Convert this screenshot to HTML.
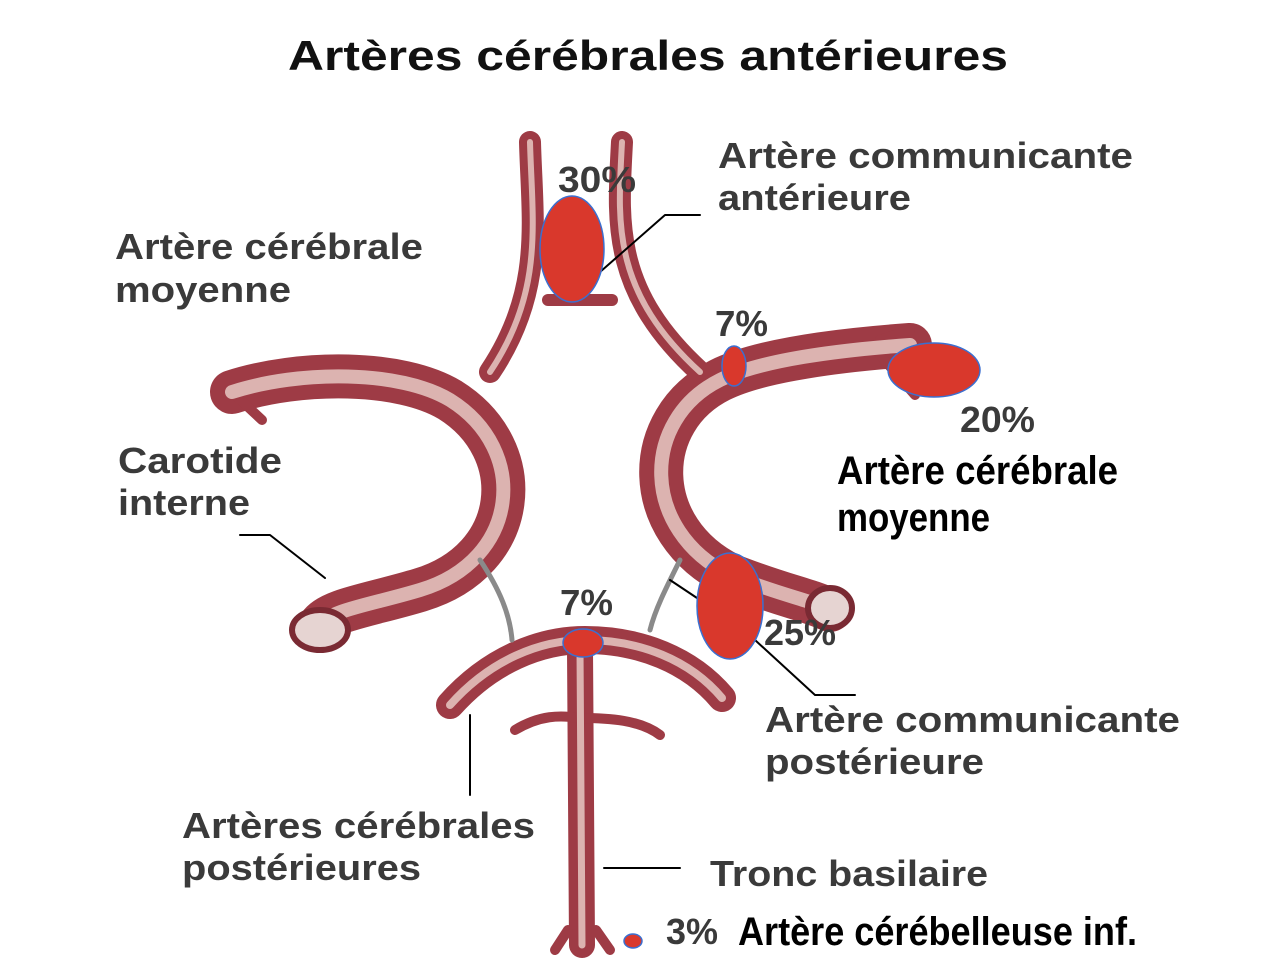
<!DOCTYPE html>
<html><head><meta charset="utf-8"><style>
html,body{margin:0;padding:0;background:#fff;}
svg{display:block;}
.t{font-family:"Liberation Sans",sans-serif;font-weight:bold;fill:#3a3a3a;font-size:36px;}
.n{font-family:"Liberation Sans Narrow","Liberation Sans",sans-serif;font-weight:bold;fill:#000;font-size:40px;}
</style></head><body>
<svg width="1280" height="964" viewBox="0 0 1280 964">
<text x="288" y="70" textLength="720" lengthAdjust="spacingAndGlyphs" font-family="Liberation Sans,sans-serif" font-weight="bold" font-size="42" fill="#111">Artères cérébrales antérieures</text>
<g fill="none" stroke-linecap="round" stroke-linejoin="round">
<g stroke="#9e3b45">
<path d="M530 142 C532 220 545 290 490 372" stroke-width="22"/>
<path d="M622 142 C618 220 610 290 700 372" stroke-width="22"/>
<path d="M548 300 L612 300" stroke-width="12"/>
<path d="M232 392 C300 370 400 370 450 400 C530 450 520 560 420 590 C370 605 330 610 320 625" stroke-width="44"/>
<path d="M232 392 L262 420" stroke-width="10"/>
<path d="M910 345 C840 350 760 360 720 380 C640 420 640 530 730 575 C780 595 810 600 830 610" stroke-width="44"/>
<path d="M880 340 L910 330 M880 355 L915 395" stroke-width="10"/>
<path d="M450 705 C490 660 540 640 585 640 C640 640 690 660 722 698" stroke-width="28"/>
<path d="M580 650 L582 945" stroke-width="26"/>
<path d="M515 730 C540 715 560 715 580 718 C610 718 640 720 660 735" stroke-width="10"/>
<path d="M568 930 L555 950 M596 930 L610 950" stroke-width="10"/>
</g>
<g stroke="#dcb3b0">
<path d="M530 142 C532 220 545 290 490 372" stroke-width="6"/>
<path d="M622 142 C618 220 610 290 700 372" stroke-width="6"/>
<path d="M232 392 C300 370 400 370 450 400 C530 450 520 560 420 590 C370 605 330 610 320 625" stroke-width="14"/>
<path d="M910 345 C840 350 760 360 720 380 C640 420 640 530 730 575 C780 595 810 600 830 610" stroke-width="14"/>
<path d="M450 705 C490 660 540 640 585 640 C640 640 690 660 722 698" stroke-width="8"/>
<path d="M580 650 L582 945" stroke-width="7"/>
</g>
<g stroke="#8a8a8a" stroke-width="5">
<path d="M480 560 C500 590 510 615 512 640"/>
<path d="M680 560 C665 590 655 610 650 630"/>
</g>
<g stroke="#000" stroke-width="2">
<path d="M600 272 L665 215 L700 215"/>
<path d="M240 535 L270 535 L325 578"/>
<path d="M670 580 L700 600"/>
<path d="M755 640 L815 695 L855 695"/>
<path d="M470 715 L470 795"/>
<path d="M604 868 L680 868"/>
</g>
</g>
<ellipse cx="320" cy="630" rx="28" ry="20" fill="#e6d4d2" stroke="#7a2a33" stroke-width="6"/>
<ellipse cx="830" cy="608" rx="22" ry="20" fill="#e6d4d2" stroke="#7a2a33" stroke-width="6"/>
<g fill="#d9382c" stroke="#3b6fd0" stroke-width="1.5">
<ellipse cx="572" cy="249" rx="32" ry="53"/>
<ellipse cx="734" cy="366" rx="12" ry="20"/>
<ellipse cx="934" cy="370" rx="46" ry="27"/>
<ellipse cx="730" cy="606" rx="33" ry="53"/>
<ellipse cx="583" cy="643" rx="20" ry="14"/>
<ellipse cx="633" cy="941" rx="9" ry="7"/>
</g>
<g lengthAdjust="spacingAndGlyphs">
<text class="t" x="558" y="192" textLength="78" lengthAdjust="spacingAndGlyphs">30%</text>
<text class="t" x="718" y="168" textLength="415" lengthAdjust="spacingAndGlyphs">Artère communicante</text>
<text class="t" x="718" y="210" textLength="193" lengthAdjust="spacingAndGlyphs">antérieure</text>
<text class="t" x="115" y="259" textLength="308" lengthAdjust="spacingAndGlyphs">Artère cérébrale</text>
<text class="t" x="115" y="302" textLength="176" lengthAdjust="spacingAndGlyphs">moyenne</text>
<text class="t" x="715" y="336" textLength="53" lengthAdjust="spacingAndGlyphs">7%</text>
<text class="t" x="960" y="432" textLength="75" lengthAdjust="spacingAndGlyphs">20%</text>
<text class="t" x="118" y="473" textLength="164" lengthAdjust="spacingAndGlyphs">Carotide</text>
<text class="t" x="118" y="515" textLength="132" lengthAdjust="spacingAndGlyphs">interne</text>
<text class="n" x="837" y="484" textLength="281" lengthAdjust="spacingAndGlyphs">Artère cérébrale</text>
<text class="n" x="837" y="531" textLength="153" lengthAdjust="spacingAndGlyphs">moyenne</text>
<text class="t" x="560" y="615" textLength="53" lengthAdjust="spacingAndGlyphs">7%</text>
<text class="t" x="764" y="645" textLength="72" lengthAdjust="spacingAndGlyphs">25%</text>
<text class="t" x="765" y="732" textLength="415" lengthAdjust="spacingAndGlyphs">Artère communicante</text>
<text class="t" x="765" y="774" textLength="219" lengthAdjust="spacingAndGlyphs">postérieure</text>
<text class="t" x="182" y="838" textLength="353" lengthAdjust="spacingAndGlyphs">Artères cérébrales</text>
<text class="t" x="182" y="880" textLength="239" lengthAdjust="spacingAndGlyphs">postérieures</text>
<text class="t" x="710" y="886" textLength="278" lengthAdjust="spacingAndGlyphs">Tronc basilaire</text>
<text class="t" x="666" y="944" textLength="52" lengthAdjust="spacingAndGlyphs">3%</text>
<text class="n" x="738" y="945" textLength="399" lengthAdjust="spacingAndGlyphs">Artère cérébelleuse inf.</text>
</g>
</svg>
</body></html>
